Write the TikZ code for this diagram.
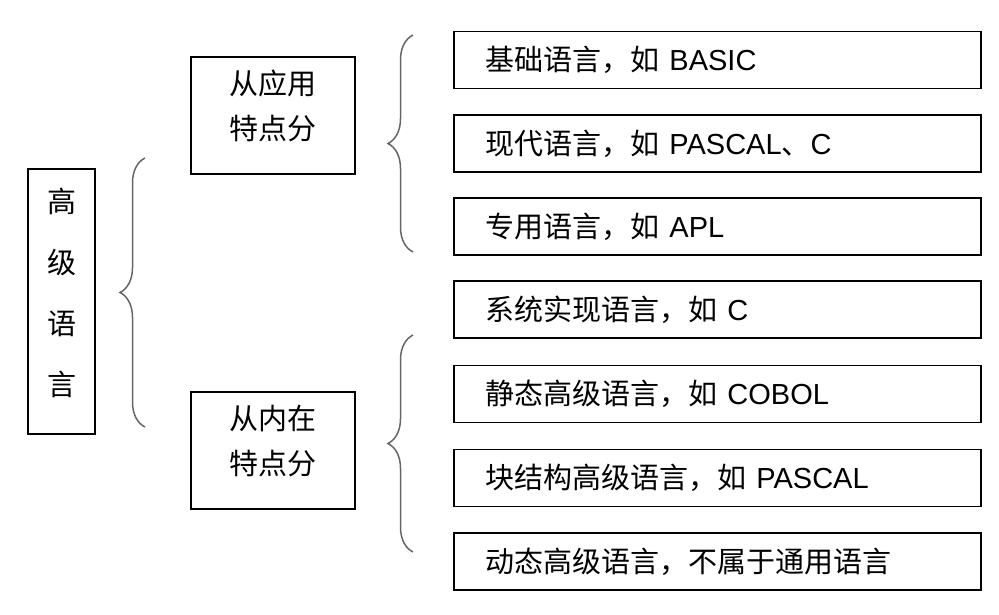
\documentclass[tikz,border=0pt]{standalone}
\usepackage{fontspec}
\setmainfont{Liberation Sans}
\newfontfamily\cjk{Noto Sans CJK SC}
\usetikzlibrary{decorations.pathreplacing}

\begin{document}
\begin{tikzpicture}[x=1pt, y=-1pt,
every node/.style = {font=\fontsize{29}{45}\selectfont},
frame/.style = {draw, line width=1.5pt},
kind/.style = {frame, minimum width=164pt, minimum height=117pt},
kindtext/.style = {align=center, font=\cjk\fontsize{29}{45}\selectfont},
item/.style = {frame, anchor=west, text width=463pt, inner xsep=32pt,
    minimum height=57pt, align=left},
curly/.style = {decorate, decoration={brace, amplitude=25pt},
    draw=black!60, line width=1.5pt}]
\useasboundingbox (0,0) rectangle (999,614);
\node[frame, minimum width=67pt, minimum height=265pt] (lang) at (61.5,301.5) {};
\node[align=center, font=\cjk\fontsize{29}{61}\selectfont] (langtext)
    at (61.5,293) {高\\级\\语\\言};
\node[kind] (app) at (273,115.5) {};
\node[kindtext] (apptext) at (273,106) {从应用\\特点分};
\node[kind] (inner) at (273,450.5) {};
\node[kindtext] (innertext) at (273,441) {从内在\\特点分};
\node[item] (basic) at (453,60) {{\cjk 基础语言，如} BASIC};
\node[item] (modern) at (453,143.5) {{\cjk 现代语言，如} PASCAL{\cjk 、}C};
\node[item] (special) at (453,226.5) {{\cjk 专用语言，如} APL};
\node[item] (system) at (453,309.5) {{\cjk 系统实现语言，如} C};
\node[item] (static) at (453,394) {{\cjk 静态高级语言，如} COBOL};
\node[item] (block) at (453,478) {{\cjk 块结构高级语言，如} PASCAL};
\node[item] (dynamic) at (453,561.5) {{\cjk 动态高级语言，不属于通用语言}};
\draw[curly] (145,427) -- (145,158);
\draw[curly] (413,252) -- (413,35);
\draw[curly] (413,552) -- (413,335);
\end{tikzpicture}
\end{document}
